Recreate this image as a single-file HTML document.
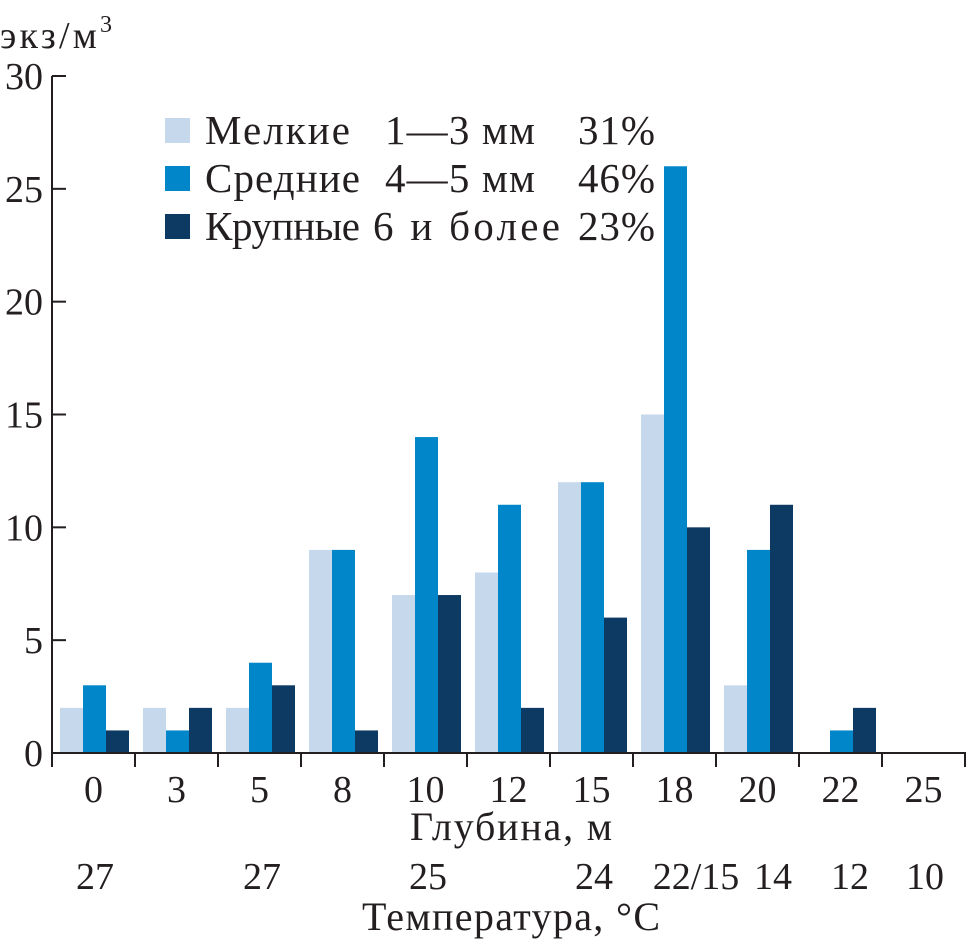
<!DOCTYPE html>
<html><head><meta charset="utf-8"><style>
body{margin:0;background:#fff}
svg{display:block}
text{font-family:"Liberation Serif",serif;fill:#231f20}
</style></head><body>
<svg width="971" height="944" viewBox="0 0 971 944">
<g id="bars"></g>
<g id="axes"></g>
<text x="0" y="48" font-size="38" textLength="112">экз/м<tspan font-size="24" dy="-16">3</tspan></text>
<g font-size="41">
<rect x="165" y="118" width="25" height="25" fill="#c6d8eb"/>
<text x="205" y="144" textLength="145">Мелкие</text>
<text x="385" y="144" textLength="150">1—3 мм</text>
<text x="578" y="144" textLength="77">31%</text>
<rect x="165" y="166" width="25" height="25" fill="#0086c9"/>
<text x="205" y="192" textLength="155">Средние</text>
<text x="385" y="192" textLength="150">4—5 мм</text>
<text x="578" y="192" textLength="77">46%</text>
<rect x="165" y="214" width="25" height="25" fill="#0d3a63"/>
<text x="205" y="240" textLength="155">Крупные</text>
<text x="373" y="240" textLength="187">6 и более</text>
<text x="578" y="240" textLength="77">23%</text>
</g>
<text x="410" y="840" font-size="40" textLength="202">Глубина, м</text>
<g id="temps" font-size="38"></g>
<text x="362" y="930" font-size="40" textLength="298">Температура, °C</text>
</svg>
<script>
const categories=["0","3","5","8","10","12","15","18","20","22","25"];
const small=[2,2,2,9,7,8,12,15,3,0,0];
const medium=[3,1,4,9,14,11,12,26,9,1,0];
const large=[1,2,3,1,7,2,6,10,11,2,0];
const yTicks=[0,5,10,15,20,25,30];
const tempLabels=["27","27","25","24","22/15","14","12","10"];
const tempX=[95,262,428,594,696,773,850,925];
const NS="http://www.w3.org/2000/svg";
const x0=52,gw=83,y0=753,yTop=76,yMax=30;
const y=v=>y0-(v/yMax)*(y0-yTop);
const gx=i=>x0+i*gw;
function mk(t,a,p){const e=document.createElementNS(NS,t);for(const k in a)e.setAttribute(k,a[k]);p.appendChild(e);return e;}
const bars=document.getElementById('bars'),axes=document.getElementById('axes');
const series=[[small,"#c6d8eb","small"],[medium,"#0086c9","medium"],[large,"#0d3a63","large"]];
categories.forEach((c,i)=>{
 series.forEach((s,j)=>{
  const v=s[0][i]; if(v<=0) return;
  const r=mk('rect',{x:gx(i)+8+j*23,y:y(v),width:23,height:y0-y(v),fill:s[1]},bars);
  
  
 });
 const t=mk('text',{x:gx(i)+gw/2,y:802,'font-size':38,'text-anchor':'middle'},axes);
 t.textContent=c;
 
 
 const tk=mk('line',{x1:gx(i+1),x2:gx(i+1),y1:y0,y2:767,stroke:'#231f20','stroke-width':2},axes);
 
 
});
const xa=mk('line',{x1:x0,x2:966,y1:y0,y2:y0,stroke:'#231f20','stroke-width':2},axes);


const ya=mk('line',{x1:x0,x2:x0,y1:yTop,y2:767,stroke:'#231f20','stroke-width':2},axes);


yTicks.forEach(v=>{
 const l=mk('line',{x1:x0,x2:66,y1:y(v),y2:y(v),stroke:'#231f20','stroke-width':2},axes);
 
 
 const t=mk('text',{x:43,y:y(v)+13,'font-size':38,'text-anchor':'end'},axes);
 t.textContent=v;
 
 
});
const tg=document.getElementById('temps');
tempLabels.forEach((s,i)=>{
 const t=mk('text',{x:tempX[i],y:889,'text-anchor':'middle'},tg);
 t.textContent=s;
 
 
});
</script>
</body></html>
